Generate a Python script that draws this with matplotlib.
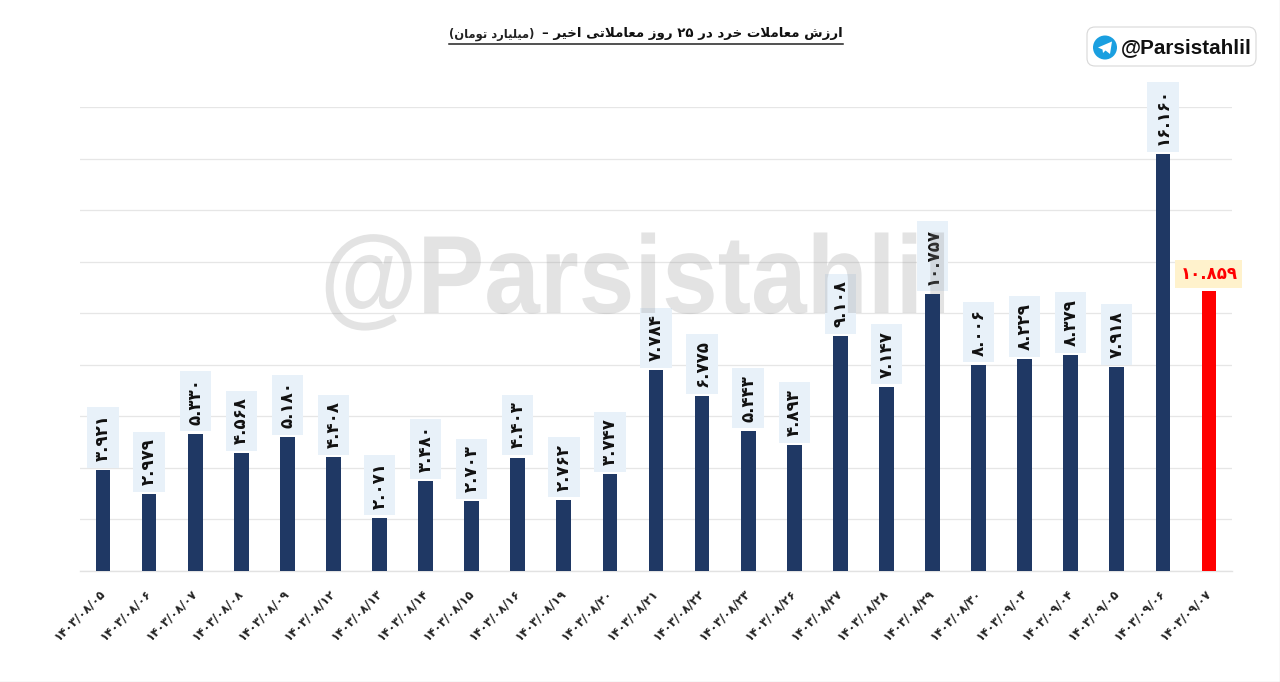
import matplotlib
matplotlib.use("Agg")
import matplotlib.pyplot as plt
import matplotlib.patheffects as pe
from matplotlib.patches import Circle, FancyBboxPatch, Polygon
from matplotlib.lines import Line2D
from matplotlib.transforms import Affine2D

dates = ["۱۴۰۳/۰۸/۰۵", "۱۴۰۳/۰۸/۰۶", "۱۴۰۳/۰۸/۰۷", "۱۴۰۳/۰۸/۰۸", "۱۴۰۳/۰۸/۰۹",
         "۱۴۰۳/۰۸/۱۲", "۱۴۰۳/۰۸/۱۳", "۱۴۰۳/۰۸/۱۴", "۱۴۰۳/۰۸/۱۵", "۱۴۰۳/۰۸/۱۶",
         "۱۴۰۳/۰۸/۱۹", "۱۴۰۳/۰۸/۲۰", "۱۴۰۳/۰۸/۲۱", "۱۴۰۳/۰۸/۲۲", "۱۴۰۳/۰۸/۲۳",
         "۱۴۰۳/۰۸/۲۶", "۱۴۰۳/۰۸/۲۷", "۱۴۰۳/۰۸/۲۸", "۱۴۰۳/۰۸/۲۹", "۱۴۰۳/۰۸/۳۰",
         "۱۴۰۳/۰۹/۰۳", "۱۴۰۳/۰۹/۰۴", "۱۴۰۳/۰۹/۰۵", "۱۴۰۳/۰۹/۰۶", "۱۴۰۳/۰۹/۰۷"]
values = [3921, 2979, 5330, 4568, 5180, 4408, 2071, 3480, 2703, 4403, 2762, 3747,
          7784, 6775, 5443, 4893, 9108, 7147, 10757, 8006, 8229, 8379, 7918, 16160, 10859]
title_main = "ارزش معاملات خرد در ۲۵ روز معاملاتی اخیر –"
title_unit = "(میلیارد تومان)"
handle = "@Parsistahlil"

FORMS = {  # isolated, final, initial, medial
    "ا": (0xFE8D, 0xFE8E), "د": (0xFEA9, 0xFEAA), "ر": (0xFEAD, 0xFEAE), "ز": (0xFEAF, 0xFEB0),
    "و": (0xFEED, 0xFEEE),
    "ت": (0xFE95, 0xFE96, 0xFE97, 0xFE98), "خ": (0xFEA5, 0xFEA6, 0xFEA7, 0xFEA8),
    "ش": (0xFEB5, 0xFEB6, 0xFEB7, 0xFEB8), "ع": (0xFEC9, 0xFECA, 0xFECB, 0xFECC),
    "ل": (0xFEDD, 0xFEDE, 0xFEDF, 0xFEE0), "م": (0xFEE1, 0xFEE2, 0xFEE3, 0xFEE4),
    "ن": (0xFEE5, 0xFEE6, 0xFEE7, 0xFEE8), "ی": (0xFBFC, 0xFBFD, 0xFBFE, 0xFBFF),
}


def shape(text):
    """Arabic presentation forms in visual order, since matplotlib has no shaping."""
    out = []
    chars = list(text)
    i = 0
    prev_joins = False
    while i < len(chars):
        c = chars[i]
        if c not in FORMS:
            out.append({"(": ")", ")": "("}.get(c, c))
            prev_joins = False
            i += 1
            continue
        if c == "ل" and i + 1 < len(chars) and chars[i + 1] == "ا":
            out.append(chr(0xFEFC if prev_joins else 0xFEFB))
            prev_joins = False
            i += 2
            continue
        f = FORMS[c]
        next_is = i + 1 < len(chars) and chars[i + 1] in FORMS
        if len(f) == 4 and next_is:
            out.append(chr(f[3] if prev_joins else f[2]))
            prev_joins = True
        else:
            out.append(chr(f[1] if prev_joins else f[0]))
            prev_joins = False
        i += 1
    vis = out[::-1]
    res, run = [], []
    for ch in vis:
        if "۰" <= ch <= "۹":
            run.append(ch)
        else:
            res.extend(run[::-1])
            run = []
            res.append(ch)
    res.extend(run[::-1])
    return "".join(res)


def fa_num(v):
    s = f"{v:,}".replace(",", ".")
    return "".join("۰۱۲۳۴۵۶۷۸۹"[int(c)] if c.isdigit() else c for c in s)


class Squeeze(pe.AbstractPathEffect):
    """Draw the text narrower about a fixed display point, like a condensed face."""

    def __init__(self, sx, x0):
        super().__init__()
        self.sx, self.x0 = sx, x0

    def draw_path(self, renderer, gc, tpath, affine, rgbFace=None):
        t = affine + Affine2D().translate(-self.x0, 0).scale(self.sx, 1).translate(self.x0, 0)
        renderer.draw_path(gc, tpath, t, rgbFace)


W, H = 1280, 682
fig = plt.figure(figsize=(W / 100, H / 100), dpi=100, facecolor="white")
ax = fig.add_axes([80 / W, 1 - 571 / H, 1152 / W, 464 / H])
px = Affine2D().scale(1 / W, -1 / H).translate(0, 1) + fig.transFigure

x = list(range(len(values)))
colors = ["#1F3864"] * (len(values) - 1) + ["#FF0000"]
ax.bar(x, values, width=0.32, color=colors, zorder=4)
ax.set_xlim(-0.5, len(values) - 0.5)
ax.set_ylim(0, 18000)
ax.set_yticks(range(0, 18001, 2000))
ax.set_yticklabels([])
ax.grid(axis="y", color="#E6E6E6", lw=0.9, zorder=1)
ax.set_axisbelow(True)
ax.tick_params(length=0)
for s in ("top", "right", "left"):
    ax.spines[s].set_visible(False)
ax.spines["bottom"].set_color("#E2E2E2")
ax.spines["bottom"].set_linewidth(1.0)
ax.set_xticks(x)
ax.set_xticklabels(dates, rotation=45, ha="right", va="center", rotation_mode="anchor",
                   fontsize=8.6, fontweight="bold", color="#222222", family="DejaVu Sans")
ax.tick_params(axis="x", pad=15)

for i, v in enumerate(values):
    last = i == len(values) - 1
    ax.annotate(
        fa_num(v), (i, v), xytext=(0, 6.0 if last else 6.5), textcoords="offset points",
        ha="center", va="bottom", rotation=0 if last else 90,
        fontsize=12, fontweight="bold",
        color="#FF0000" if last else "#111111", family="DejaVu Sans", zorder=2,
        bbox=dict(boxstyle="square,pad=0.3" if last else "square,pad=0.4",
                  fc="#FFF2CC" if last else "#E8F1F9", ec="none"),
    )

ax.text(320, 313, handle, transform=px, fontsize=80, fontweight="bold", color="#8C8C8C",
        alpha=0.24, family="Liberation Sans", va="baseline", ha="left", zorder=3,
        clip_on=False, path_effects=[Squeeze(0.9, 320)])

# title
fig.text(843 / W, 1 - 34 / H, shape(title_main), ha="right", va="center", fontsize=9.6,
         fontweight="bold", family="DejaVu Sans", color="#111111")
fig.text(449 / W, 1 - 34 / H, shape(title_unit), ha="left", va="center", fontsize=8.3,
         fontweight="bold", family="DejaVu Sans", color="#222222")
fig.add_artist(Line2D([449, 843], [44, 44], transform=px, color="#222222", lw=1.1))

# telegram badge
fig.add_artist(FancyBboxPatch((1087, 27), 169, 39, boxstyle="round,pad=0,rounding_size=8",
                              transform=px, fc="white", ec="#D8D8D8", lw=0.8))
fig.add_artist(Circle((1105, 47.5), 12, transform=px, fc="#1A9FE0", ec="none"))
fig.add_artist(Polygon([(1098, 47.5), (1112, 41.5), (1110, 54), (1105.5, 50.5), (1103, 53), (1102.5, 49.5)],
                       transform=px, fc="white", ec="none"))
fig.text(1121 / W, 1 - 48 / H, handle, ha="left", va="center", fontsize=14.9, fontweight="bold",
         family="Liberation Sans", color="#111111")

# picture frame on the right and bottom
fig.add_artist(Line2D([1279.5, 1279.5, 0], [0, 681.5, 681.5], transform=px, color="#DDDDDD", lw=1))

fig.savefig("out.png", dpi=100, facecolor="white")
